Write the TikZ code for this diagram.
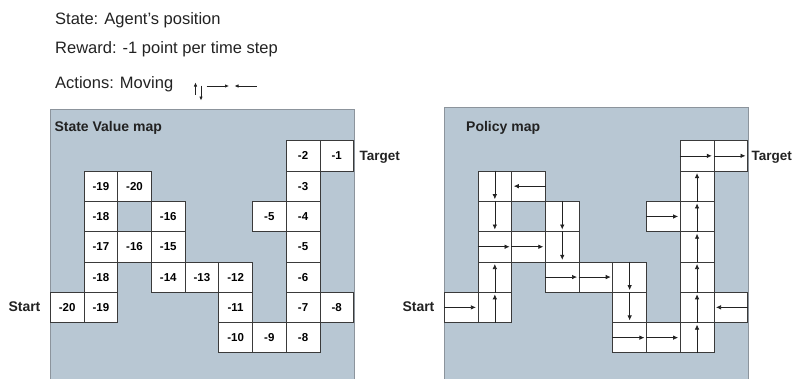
\documentclass[tikz,border=0pt]{standalone}
\usepackage{fontspec}
\setmainfont{Liberation Sans}
\usetikzlibrary{arrows.meta}
\definecolor{panelbg}{HTML}{B8C7D3}
\definecolor{panelline}{HTML}{8C949C}
\definecolor{cellline}{HTML}{3A3A3A}
\definecolor{inkc}{HTML}{222222}
\begin{document}
\begin{tikzpicture}[x=1pt,y=-1pt,
  panel/.style={draw=panelline, line width=1pt, fill=panelbg, anchor=north west,
    minimum width=303.3pt, minimum height=290pt, inner sep=0pt},
  cell/.style={draw=cellline, line width=0.8pt, fill=white, minimum width=33.7pt,
    minimum height=30.3pt, inner sep=0pt, font=\fontsize{11.5}{13}\selectfont\bfseries},
  hdr/.style={anchor=base west, inner sep=0pt, font=\fontsize{16.5}{19}\selectfont, text=inkc},
  ttl/.style={anchor=base west, inner sep=0pt, font=\fontsize{14}{16}\selectfont\bfseries, text=inkc},
  side/.style={inner sep=0pt, font=\fontsize{14}{16}\selectfont\bfseries, text=inkc},
  tgt/.style={inner sep=0pt, font=\fontsize{13.5}{16}\selectfont\bfseries, text=inkc},
  parrow/.style={draw=inkc, line width=0.7pt, -{Latex[length=5pt,width=4.5pt]}, shorten >=2.5pt},
  harrow/.style={draw=inkc, line width=0.7pt, -{Latex[length=4pt,width=3.4pt]}}
]
\useasboundingbox (0,0) rectangle (793,378);
\clip (0,0) rectangle (793,378);

% header
\node[hdr] (h1) at (55,24) {State: Agent's position};
\node[hdr] (h2) at (55,53.3) {Reward: -1 point per time step};
\node[hdr] (h3) at (55,88.3) {Actions: Moving};
\draw[harrow] (195.5,94.5) -- (195.5,82.5);
\draw[harrow] (201,85.5) -- (201,100.5);
\draw[harrow] (206.7,86) -- (229,86);
\draw[harrow] (256.7,86) -- (234.5,86);

% panels
\node[panel] (LP) at (50.3,109) {};
\node[panel] (RP) at (444.3,107.3) {};
\node[ttl] (lt) at (54.3,131.7) {State Value map};
\node[ttl] (rt) at (466,131.7) {Policy map};

% state value cells
\foreach \r/\c/\v in {0/7/-2, 0/8/-1,
  1/1/-19, 1/2/-20, 1/7/-3,
  2/1/-18, 2/3/-16, 2/6/-5, 2/7/-4,
  3/1/-17, 3/2/-16, 3/3/-15, 3/7/-5,
  4/1/-18, 4/3/-14, 4/4/-13, 4/5/-12, 4/7/-6,
  5/0/-20, 5/1/-19, 5/5/-11, 5/7/-7, 5/8/-8,
  6/5/-10, 6/6/-9, 6/7/-8}
  \node[cell] (L-\r-\c) at ({50.3+33.7*(\c+0.5)},{140.7+30.3*(\r+0.5)}) {\v};

% policy cells
\foreach \r/\c in {0/7, 0/8, 1/1, 1/2, 1/7, 2/1, 2/3, 2/6, 2/7,
  3/1, 3/2, 3/3, 3/7, 4/1, 4/3, 4/4, 4/5, 4/7,
  5/0, 5/1, 5/5, 5/7, 5/8, 6/5, 6/6, 6/7}
  \node[cell] (R-\r-\c) at ({444.3+33.7*(\c+0.5)},{140.7+30.3*(\r+0.5)}) {};

% policy arrows
\foreach \r/\c in {0/7, 0/8, 2/6, 3/1, 3/2, 4/3, 4/4, 5/0, 6/5, 6/6}
  \draw[parrow] (R-\r-\c.west) -- (R-\r-\c.east);
\foreach \r/\c in {1/2, 5/8}
  \draw[parrow] (R-\r-\c.east) -- (R-\r-\c.west);
\foreach \r/\c in {1/1, 2/1, 2/3, 3/3, 4/5, 5/5}
  \draw[parrow] (R-\r-\c.north) -- (R-\r-\c.south);
\foreach \r/\c in {1/7, 2/7, 3/7, 4/7, 5/7, 6/7, 4/1, 5/1}
  \draw[parrow] (R-\r-\c.south) -- (R-\r-\c.north);

% side labels
\node[side, anchor=base east] (ls) at ([xshift=-9.3pt,yshift=-4.3pt]L-5-0.west) {Start};
\node[tgt, anchor=base west] (lg) at ([xshift=5.4pt,yshift=-4.8pt]L-0-8.east) {Target};
\node[side, anchor=base east] (rs) at ([xshift=-9.3pt,yshift=-4.3pt]R-5-0.west) {Start};
\node[tgt, anchor=base west] (rg) at ([xshift=3.5pt,yshift=-4.8pt]R-0-8.east) {Target};
\end{tikzpicture}
\end{document}
